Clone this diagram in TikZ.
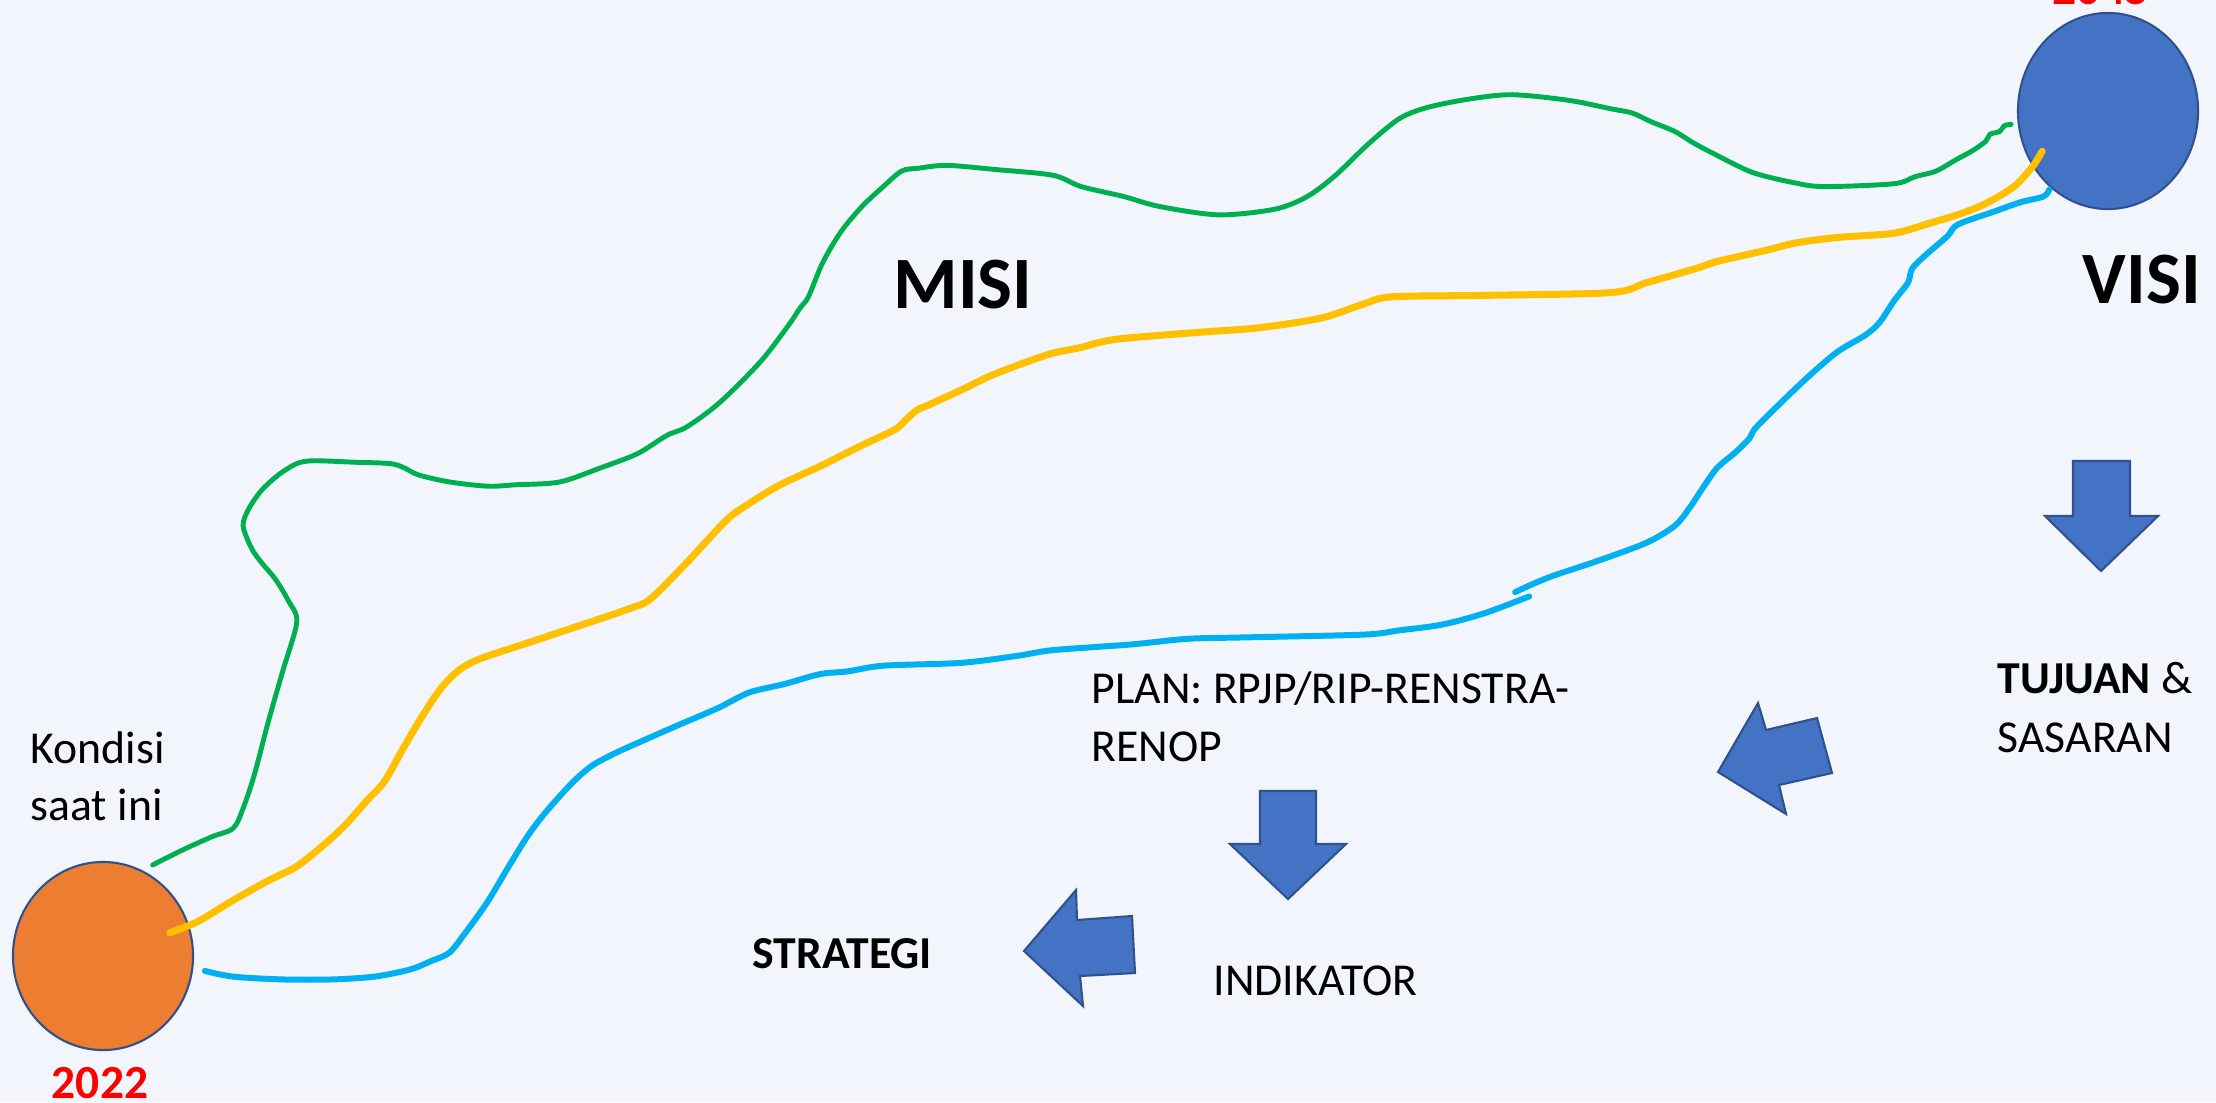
\documentclass[tikz,border=0pt]{standalone}
\usepackage{fontspec}
\setmainfont{Carlito}
\usepackage{tikz}
\usetikzlibrary{shapes.geometric}
\definecolor{bgpaper}{HTML}{F2F6FC}
\definecolor{pathgreen}{HTML}{00B050}
\definecolor{pathyellow}{HTML}{FFC000}
\definecolor{pathblue}{HTML}{00B0F0}
\definecolor{nowcolor}{HTML}{ED7D31}
\definecolor{goalcolor}{HTML}{4472C4}
\definecolor{edgecolor}{HTML}{2F528F}
\definecolor{yearred}{HTML}{FF0000}

\begin{document}
\begin{tikzpicture}[x=0.01cm, y=-0.01cm,
    blockarrow/.style={fill=goalcolor, draw=edgecolor, line width=0.6pt, line join=miter},
    txt/.style={font=\fontsize{13}{16}\selectfont, anchor=base west, inner sep=0pt},
    headword/.style={font=\fontsize{21}{25}\selectfont\bfseries, anchor=base west, inner sep=0pt},
    year/.style={font=\fontsize{13.5}{16}\selectfont\bfseries, text=yearred, anchor=base, inner sep=0pt},
    yearball/.style={ellipse, draw=edgecolor, line width=0.6pt, inner sep=0pt, minimum width=1.8cm},
    trail/.style={line width=#1, line cap=round, line join=round}]
    % Paper
    \useasboundingbox (0,0) rectangle (2216,1102);
    \clip (0,0) rectangle (2216,1102);
    \fill[bgpaper] (0,0) rectangle (2216,1102);
    % Start and goal
    \node[yearball, fill=nowcolor, minimum height=1.88cm] (now) at (103,956) {};
    \node[yearball, fill=goalcolor, minimum height=1.96cm] (goal) at (2108,111) {};
    \node[year] (yearnow) at (100,1098) {2022};
    \node[year] (yeargoal) at (2101,4) {2045};
    % Roads (traced on a 1568 wide grid)
    \begin{scope}[scale=1.4133]
    \draw[pathgreen, trail=1.4pt] plot[smooth, tension=0.5] coordinates {
        (108,612) (130,601) (150,592) (165,586) (172,572) (180,548) (190,510)
        (200,475) (210,440) (204,425) (195,410) (185,398) (178,388) (172,372)
        (176,360) (185,347) (197,336) (210,328) (222,326) (250,327) (276,328)
        (286,331) (296,336) (318,341) (345,344) (365,343) (396,341) (425,331)
        (451,321) (472,308) (486,302) (509,285) (538,256) (558,230) (566,218)
        (572,210) (582,186) (595,164) (610,146) (625,132) (638,121) (650,119)
        (670,117) (705,120) (745,124) (765,132) (795,139) (820,146) (862,152)
        (902,148) (925,139) (945,124) (968,102) (990,84) (1010,76) (1040,70)
        (1070,67) (1110,71) (1140,77) (1155,80) (1168,86) (1185,93) (1198,101)
        (1215,110) (1240,122) (1268,129) (1290,132) (1340,130) (1355,125)
        (1370,121) (1384,113) (1395,107) (1405,100) (1408,95) (1415,93)
        (1418,89) (1423,88)};
    \draw[pathyellow, trail=2pt] plot[smooth, tension=0.5] coordinates {
        (120,660) (140,652) (165,637) (190,623) (210,613) (230,597) (245,583)
        (260,566) (272,553) (285,530) (298,508) (312,487) (325,474) (340,466)
        (370,456) (400,446) (415,441) (430,436) (447,430) (460,424) (486,398)
        (514,368) (529,357) (552,343) (580,330) (608,316) (633,304) (641,297)
        (649,290) (656,287) (680,276) (703,265) (741,251) (764,246) (790,240)
        (850,235) (890,232) (935,225) (965,215) (985,210) (1050,209) (1140,207)
        (1165,200) (1200,190) (1215,185) (1250,177) (1270,172) (1300,168)
        (1340,165) (1365,158) (1385,152) (1405,144) (1425,132) (1438,118)
        (1445,107)};
    \draw[pathblue, trail=1.7pt] plot[smooth, tension=0.5] coordinates {
        (145,687) (165,691) (200,693) (235,693) (265,691) (290,686) (305,680)
        (318,674) (330,659) (345,638) (360,613) (373,592) (385,576) (400,559)
        (410,549) (420,541) (435,533) (455,524) (480,513) (508,501) (530,490)
        (555,484) (580,477) (600,475) (625,471) (680,469) (720,464) (745,460)
        (800,456) (840,452) (880,451) (965,449) (990,446) (1020,442) (1050,434)
        (1082,422)};
    \draw[pathblue, trail=1.7pt] plot[smooth, tension=0.5] coordinates {
        (1072,419) (1085,413) (1100,407) (1130,397) (1165,384) (1185,372)
        (1195,360) (1205,345) (1215,331) (1228,320) (1238,310) (1242,303)
        (1260,285) (1280,266) (1300,249) (1320,237) (1330,228) (1340,213)
        (1350,200) (1353,190) (1363,180) (1378,167) (1385,159) (1410,150)
        (1430,143) (1446,139) (1450,134)};
    \end{scope}
    % Headwords
    \node[headword] (misi) at (893,308) {MISI};
    \node[headword] (visi) at (2082,303) {VISI};
    % Current state
    \node[txt] (kondisi) at (30,763) {Kondisi};
    \node[txt] (saatini) at (30,820) {saat ini};
    % Steps
    \node[txt] (tujuan) at (1997,693) {\textbf{TUJUAN} \&};
    \node[txt] (sasaran) at (1997,752) {SASARAN};
    \node[txt] (plan) at (1091,703) {PLAN: RPJP/RIP-RENSTRA-};
    \node[txt] (renop) at (1091,761) {RENOP};
    \node[txt] (indikator) at (1213,995) {INDIKATOR};
    \node[txt, font=\fontsize{13}{16}\selectfont\bfseries] (strategi) at (752,968) {STRATEGI};
    % Block arrows
    \draw[blockarrow] (2073,461) -- (2130,461) -- (2130,516) -- (2158,516)
        -- (2101,571) -- (2045,516) -- (2073,516) -- cycle;
    \draw[blockarrow] (1718,772) -- (1758,703) -- (1766,730) -- (1817,718)
        -- (1832,773) -- (1779,785) -- (1786,814) -- cycle;
    \draw[blockarrow] (1260,791) -- (1316,791) -- (1316,844) -- (1346,844)
        -- (1288,899) -- (1230,844) -- (1260,844) -- cycle;
    \draw[blockarrow] (1024,951) -- (1076,890) -- (1077,920) -- (1132,916)
        -- (1135,973) -- (1080,976) -- (1083,1006) -- cycle;
\end{tikzpicture}
\end{document}
